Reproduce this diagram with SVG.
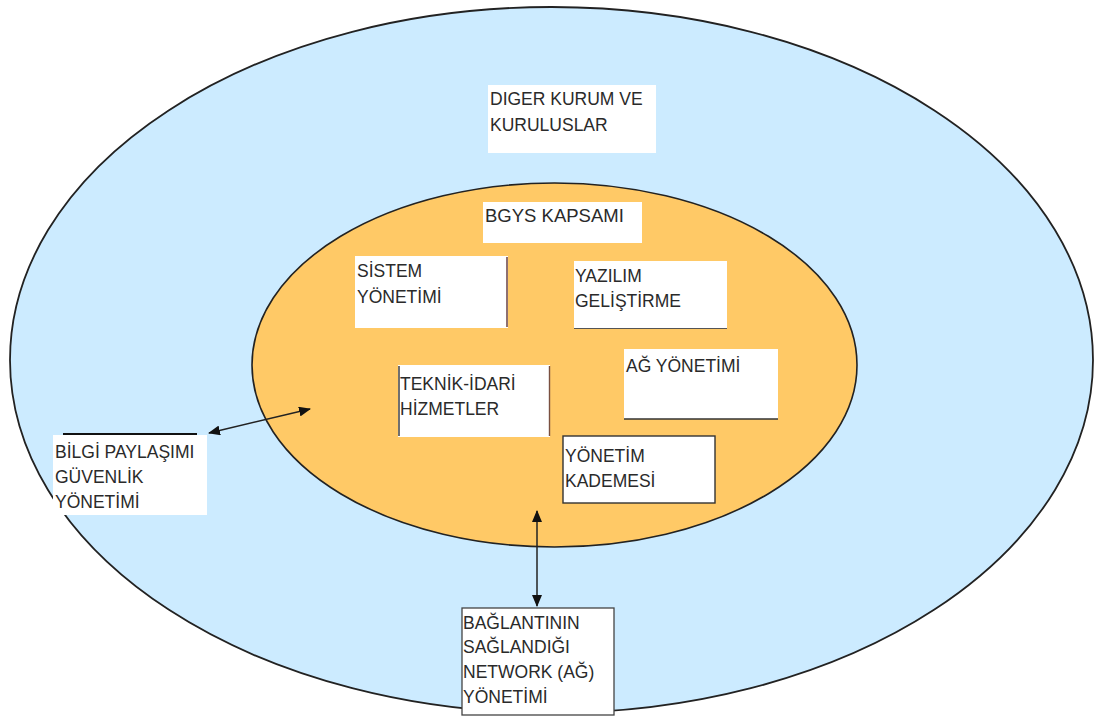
<svg xmlns="http://www.w3.org/2000/svg" width="1095" height="717" viewBox="0 0 1095 717">
<style>
.t{font-family:"Liberation Sans",Arial,sans-serif;font-size:17.5px;fill:#2a2a2a}
.box{fill:#ffffff}
.edge{stroke:#222;stroke-width:1.6;fill:none}
.con{stroke:#222;stroke-width:1.5;fill:none;marker-start:url(#ah);marker-end:url(#ah)}
</style>
<defs>
<marker id="ah" viewBox="0 0 12 10" refX="11" refY="5" markerWidth="12" markerHeight="10" markerUnits="userSpaceOnUse" orient="auto-start-reverse">
<path d="M0,0 L12,5 L0,10 Z" fill="#111"/>
</marker>
</defs>
<rect width="1095" height="717" fill="#ffffff"/>
<g id="outer">
<ellipse cx="551.5" cy="360" rx="541.5" ry="353" fill="#CCEBFF" stroke="#222" stroke-width="1.8"/>
</g>
<g id="inner">
<ellipse cx="554.5" cy="365" rx="302.5" ry="182" fill="#FFC966" stroke="#222" stroke-width="1.6"/>
</g>
<g id="diger">
<rect class="box" x="488" y="85" width="168" height="68"/>
<text class="t" x="490" y="105">DIGER KURUM VE</text>
<text class="t" x="490" y="131">KURULUSLAR</text>
</g>
<g id="bgys">
<rect class="box" x="483" y="202" width="159" height="41"/>
<text class="t" x="485" y="222" style="font-size:18.5px">BGYS KAPSAMI</text>
</g>
<g id="sistem">
<rect class="box" x="355" y="256" width="153" height="72"/>
<line x1="507" y1="257" x2="507" y2="327" stroke="#6a4040" stroke-width="1.5"/>
<text class="t" x="357" y="277">SİSTEM</text>
<text class="t" x="357" y="303">YÖNETİMİ</text>
</g>
<g id="yazilim">
<rect class="box" x="574" y="261" width="153" height="68"/>
<line x1="574" y1="328.5" x2="727" y2="328.5" stroke="#555" stroke-width="1.2"/>
<text class="t" x="575" y="282">YAZILIM</text>
<text class="t" x="575" y="307">GELİŞTİRME</text>
</g>
<g id="ag">
<rect class="box" x="624" y="349" width="154" height="70"/>
<line x1="624" y1="419" x2="778" y2="419" stroke="#333" stroke-width="1.4"/>
<text class="t" x="626" y="372">AĞ YÖNETİMİ</text>
</g>
<g id="teknik">
<rect class="box" x="398" y="365" width="152" height="72"/>
<line x1="399" y1="366" x2="399" y2="436" stroke="#333" stroke-width="1.4"/>
<line x1="549.5" y1="366" x2="549.5" y2="436" stroke="#7a5040" stroke-width="1.4"/>
<text class="t" x="400" y="390">TEKNİK-İDARİ</text>
<text class="t" x="400" y="415">HİZMETLER</text>
</g>
<g id="kademe">
<rect class="box" x="563" y="436" width="152" height="67" stroke="#333" stroke-width="1.4"/>
<text class="t" x="565" y="462">YÖNETİM</text>
<text class="t" x="565" y="487">KADEMESİ</text>
</g>
<g id="bilgi">
<rect class="box" x="53" y="435" width="154" height="80"/>
<line x1="63" y1="434" x2="197" y2="434" stroke="#111" stroke-width="2"/>
<text class="t" x="55" y="458">BİLGİ PAYLAŞIMI</text>
<text class="t" x="55" y="483">GÜVENLİK</text>
<text class="t" x="55" y="508">YÖNETİMİ</text>
</g>
<g id="baglanti">
<rect class="box" x="462" y="608" width="152" height="107" stroke="#444" stroke-width="1.3"/>
<text class="t" x="463" y="629">BAĞLANTININ</text>
<text class="t" x="463" y="653">SAĞLANDIĞI</text>
<text class="t" x="463" y="678">NETWORK (AĞ)</text>
<text class="t" x="463" y="703">YÖNETİMİ</text>
</g>
<g id="connectors">
<line class="con" x1="209" y1="433" x2="310" y2="409"/>
<line class="con" x1="537" y1="511" x2="537" y2="606"/>
</g>
</svg>
